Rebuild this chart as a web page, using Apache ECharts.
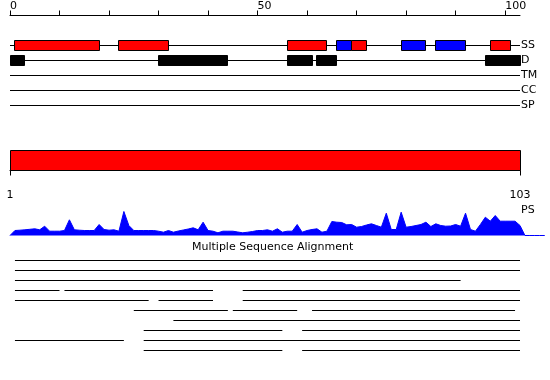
<!DOCTYPE html>
<html><head><meta charset="utf-8">
<script src="https://cdn.jsdelivr.net/npm/echarts@6/dist/echarts.min.js"></script>
<style>html,body{margin:0;padding:0;background:#fff}#c{width:550px;height:380px}</style>
</head><body><div id="c"></div>
<script>
// ---- data ----
const seqLength = 103;
const topTickValues = [0, 10, 20, 30, 40, 50, 60, 70, 80, 90, 100];
const topLabelValues = [0, 50, 100];
const rulerLabelValues = [1, 103];
const trackNames = ['SS', 'D', 'TM', 'CC', 'SP'];
const ssStart = [1, 22, 56, 66, 69, 79, 86, 97];
const ssEnd   = [18, 32, 64, 69, 72, 84, 92, 101];
const ssKind  = ['H', 'H', 'H', 'E', 'H', 'E', 'E', 'H'];
const disStart = [0, 30, 56, 62, 96];
const disEnd   = [3, 44, 61, 66, 103];
const domainStart = [1];
const domainEnd = [103];
const psLabel = 'PS';
const psValues = [
  0,
  5, 5.3, 5.7, 6.2, 6.7, 5.7, 9.3, 4.3, 4.3, 4.3,
  5, 15.7, 5.7, 5.3, 5, 5, 5, 11, 6, 5.3,
  5.7, 4.3, 24, 10, 5, 5, 5, 5, 5, 4.3,
  3.3, 5, 3.3, 4.5, 5.5, 6.5, 7.7, 5.7, 13.3, 5,
  4.3, 2.7, 4.3, 4.3, 4.3, 3.5, 2.7, 3.3, 4, 5,
  5, 5.7, 4.3, 6.7, 3.3, 4.3, 4.3, 11, 3.3, 5,
  6, 6.7, 3.3, 4.3, 14, 13.3, 13, 10.7, 11, 8.3,
  9, 10.5, 11.7, 10, 8.3, 22.3, 6, 6, 23.3, 8.3,
  9, 10, 11, 13.3, 9, 11.7, 10, 9.3, 9.5, 11,
  9.3, 22.3, 6, 4.3, 11, 18.3, 14.3, 20, 14.3, 14.3,
  14.3, 14.3, 10, 0, 0, 0, 0, 0
];
const msaTitle = 'Multiple Sequence Alignment';
const msaRowNames = ['1', '2', '3', '4', '5', '6', '7', '8', '9', '10'];
const msaRows = [
  [[1, 103]],
  [[1, 103]],
  [[1, 91]],
  [[1, 10], [11, 41], [47, 103]],
  [[1, 28], [30, 41], [47, 103]],
  [[25, 44], [45, 58], [61, 102]],
  [[33, 103]],
  [[27, 55], [59, 103]],
  [[1, 23], [27, 103]],
  [[27, 55], [59, 103]]
];

// ---- styling / layout ----
const FONT = 'DejaVu Sans';
const FS = 11;
const RED = '#ff0000', BLUE = '#0000ff', BLACK = '#000000';
const snap = v => Math.round(v - 0.5) + 0.5;

function segLine(params, api) {
  const a = api.coord([api.value(0), api.value(2)]);
  const b = api.coord([api.value(1), api.value(2)]);
  const y = snap(a[1]);
  return { type: 'line', shape: { x1: a[0], y1: y, x2: b[0], y2: y },
           style: { stroke: BLACK, lineWidth: 1 } };
}
function boxMaker(colorFn) {
  return function (params, api) {
    const a = api.coord([api.value(0), api.value(2)]);
    const b = api.coord([api.value(1), api.value(2)]);
    const y = snap(a[1]);
    const x1 = snap(a[0]), x2 = snap(b[0]);
    return { type: 'rect', shape: { x: x1, y: y - 5, width: x2 - x1, height: 10 },
             style: { fill: colorFn(params.dataIndex), stroke: BLACK, lineWidth: 1 } };
  };
}

const chart = echarts.init(document.getElementById('c'), null, { renderer: 'canvas' });
const axisText = { color: BLACK, fontSize: FS, fontFamily: FONT };
const hiddenAxis = { show: false };

chart.setOption({
  animation: false,
  backgroundColor: '#ffffff',
  textStyle: { fontFamily: FONT },
  title: [
    { text: msaTitle, left: 192, top: 242, padding: 0,
      textStyle: { fontSize: FS, fontWeight: 'normal', color: BLACK, fontFamily: FONT } },
    { text: psLabel, left: 521, top: 205, padding: 0,
      textStyle: { fontSize: FS, fontWeight: 'normal', color: BLACK, fontFamily: FONT } }
  ],
  grid: [
    { left: 10, width: 510, top: 38, height: 75, outerBoundsMode: 'none' },
    { left: 10, width: 510, top: 150.5, height: 20, outerBoundsMode: 'none' },
    { left: 10, width: 510 * 108 / 103, top: 210.5, height: 25, outerBoundsMode: 'none' },
    { left: 10, width: 510, top: 255.5, height: 100, outerBoundsMode: 'none' }
  ],
  xAxis: [
    { gridIndex: 0, type: 'value', min: 0, max: seqLength, position: 'top', offset: 22.5,
      axisLine: { show: true, lineStyle: { color: BLACK, width: 1 } },
      axisTick: { show: true, length: 5, customValues: topTickValues, lineStyle: { color: BLACK } },
      axisLabel: Object.assign({ customValues: topLabelValues, align: 'left', margin: 4 }, axisText),
      splitLine: { show: false } },
    { gridIndex: 1, type: 'value', min: 1, max: seqLength, position: 'bottom', offset: 10,
      axisLine: { show: true, lineStyle: { color: BLACK, width: 1 } },
      axisTick: { show: true, length: 5, customValues: rulerLabelValues, lineStyle: { color: BLACK } },
      axisLabel: Object.assign({ customValues: rulerLabelValues, margin: 9 }, axisText),
      splitLine: { show: false } },
    { gridIndex: 2, type: 'value', min: 0, max: 108, show: false, splitLine: { show: false } },
    { gridIndex: 3, type: 'value', min: 0, max: seqLength, show: false, splitLine: { show: false } }
  ],
  yAxis: [
    { gridIndex: 0, type: 'category', data: trackNames, inverse: true, position: 'right',
      axisLine: { show: false }, axisTick: { show: false }, splitLine: { show: false },
      axisLabel: Object.assign({ align: 'left', margin: 1 }, axisText) },
    { gridIndex: 1, type: 'value', min: 0, max: 1, show: false, splitLine: { show: false } },
    { gridIndex: 2, type: 'value', min: 0, max: 25, show: false, splitLine: { show: false } },
    { gridIndex: 3, type: 'category', data: msaRowNames, inverse: true, show: false }
  ],
  series: [
    { type: 'custom', xAxisIndex: 0, yAxisIndex: 0, renderItem: segLine,
      encode: { x: [0, 1], y: 2 },
      data: trackNames.map((t, i) => [0, seqLength, i]) },
    { type: 'custom', xAxisIndex: 0, yAxisIndex: 0, z: 3,
      renderItem: boxMaker(i => ssKind[i] === 'E' ? BLUE : RED),
      encode: { x: [0, 1], y: 2 },
      data: ssStart.map((s, i) => [s, ssEnd[i], 0]) },
    { type: 'custom', xAxisIndex: 0, yAxisIndex: 0, z: 3,
      renderItem: boxMaker(() => BLACK),
      encode: { x: [0, 1], y: 2 },
      data: disStart.map((s, i) => [s, disEnd[i], 1]) },
    { type: 'custom', xAxisIndex: 1, yAxisIndex: 1,
      renderItem: function (params, api) {
        const a = api.coord([api.value(0), 1]);
        const b = api.coord([api.value(1), 0]);
        return { type: 'rect', shape: { x: snap(a[0]), y: snap(a[1]), width: snap(b[0]) - snap(a[0]), height: snap(b[1]) - snap(a[1]) },
                 style: { fill: RED, stroke: BLACK, lineWidth: 1 } };
      },
      encode: { x: [0, 1] },
      data: domainStart.map((s, i) => [s, domainEnd[i]]) },
    { type: 'line', xAxisIndex: 2, yAxisIndex: 2, symbol: 'none', smooth: false,
      lineStyle: { color: BLUE, width: 1 }, itemStyle: { color: BLUE },
      areaStyle: { color: BLUE, opacity: 1 },
      data: psValues.map((v, i) => [i, v]) },
    { type: 'custom', xAxisIndex: 3, yAxisIndex: 3, renderItem: segLine,
      encode: { x: [0, 1], y: 2 },
      data: msaRows.flatMap((segs, r) => segs.map(s => [s[0], s[1], r])) }
  ]
});
</script>
</body></html>
